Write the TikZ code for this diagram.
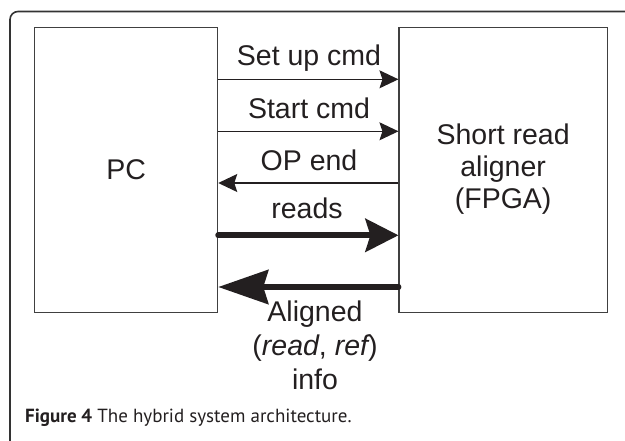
\documentclass[tikz,border=0pt]{standalone}
\usepackage{fontspec}
\setmainfont{Liberation Sans}
\newfontfamily\capfont{PT Sans}
\usetikzlibrary{arrows.meta}
\definecolor{ink}{HTML}{231F20}
\definecolor{edge}{HTML}{404040}
\definecolor{frame}{HTML}{333333}
\begin{document}
\begin{tikzpicture}[x=1pt,y=-1pt,
  box/.style={draw=edge,line width=1.1pt,minimum height=285.4pt,inner sep=0pt},
  lbl/.style={font=\fontsize{28.5}{34}\selectfont,text=ink,anchor=base,inner sep=0pt},
  thinarrow/.style={draw=ink,line width=1.1pt,-{Stealth[length=19pt,width=18pt,inset=3pt]}},
  thickarrow/.style={draw=ink,line width=6pt,line cap=round},
]
\useasboundingbox (0,0) rectangle (625,440);
\clip (0,0) rectangle (625,440);
% outer frame
\draw[frame,line width=1.6pt,rounded corners=8pt] (10,460) -- (10,11.5) -- (650,11.5);
% boxes
\node[box,minimum width=183pt] (pc) at (126.2,170) {};
\node[box,minimum width=208.3pt] (fpga) at (503.15,170) {};
% box texts
\node[lbl] (pct) at (126.2,179.3) {PC};
\node[lbl] (f1) at (503.15,144) {Short read};
\node[lbl] (f2) at (503.15,176) {aligner};
\node[lbl] (f3) at (503.15,208) {(FPGA)};
% arrow levels
\coordinate (y1) at (0,79.3);
\coordinate (y2) at (0,131.3);
\coordinate (y3) at (0,183);
\coordinate (y4) at (0,235.3);
\coordinate (y5) at (0,287);
% thin arrows
\draw[thinarrow] (pc.east |- y1) -- (fpga.west |- y1);
\draw[thinarrow] (pc.east |- y2) -- (fpga.west |- y2);
\draw[thinarrow] (fpga.west |- y3) -- (pc.east |- y3);
% thick arrows
\draw[thickarrow,-{Stealth[length=33pt,width=33pt,inset=5pt]}] (pc.east |- y4) -- (fpga.west |- y4);
\draw[thickarrow,-{Stealth[length=50pt,width=34pt,inset=5pt]}] (fpga.west |- y5) -- (pc.east |- y5);
% arrow labels
\node[lbl] (l1) at (309,65.7) {Set up cmd};
\node[lbl] (l2) at (309,118.3) {Start cmd};
\node[lbl] (l3) at (309,170.7) {OP end};
\node[lbl] (l4) at (307,218.3) {reads};
\node[lbl] (l5a) at (315,321.7) {Aligned};
\node[lbl] (l5b) at (315,355.7) {({\itshape read}, {\itshape ref})};
\node[lbl] (l5c) at (315,389.7) {info};
% caption
\node[anchor=base west,inner sep=0pt,text=ink] (cap) at (25,422)
  {\capfont\fontsize{19}{21}\selectfont\textbf{Figure 4} The hybrid system architecture.};
\end{tikzpicture}
\end{document}
